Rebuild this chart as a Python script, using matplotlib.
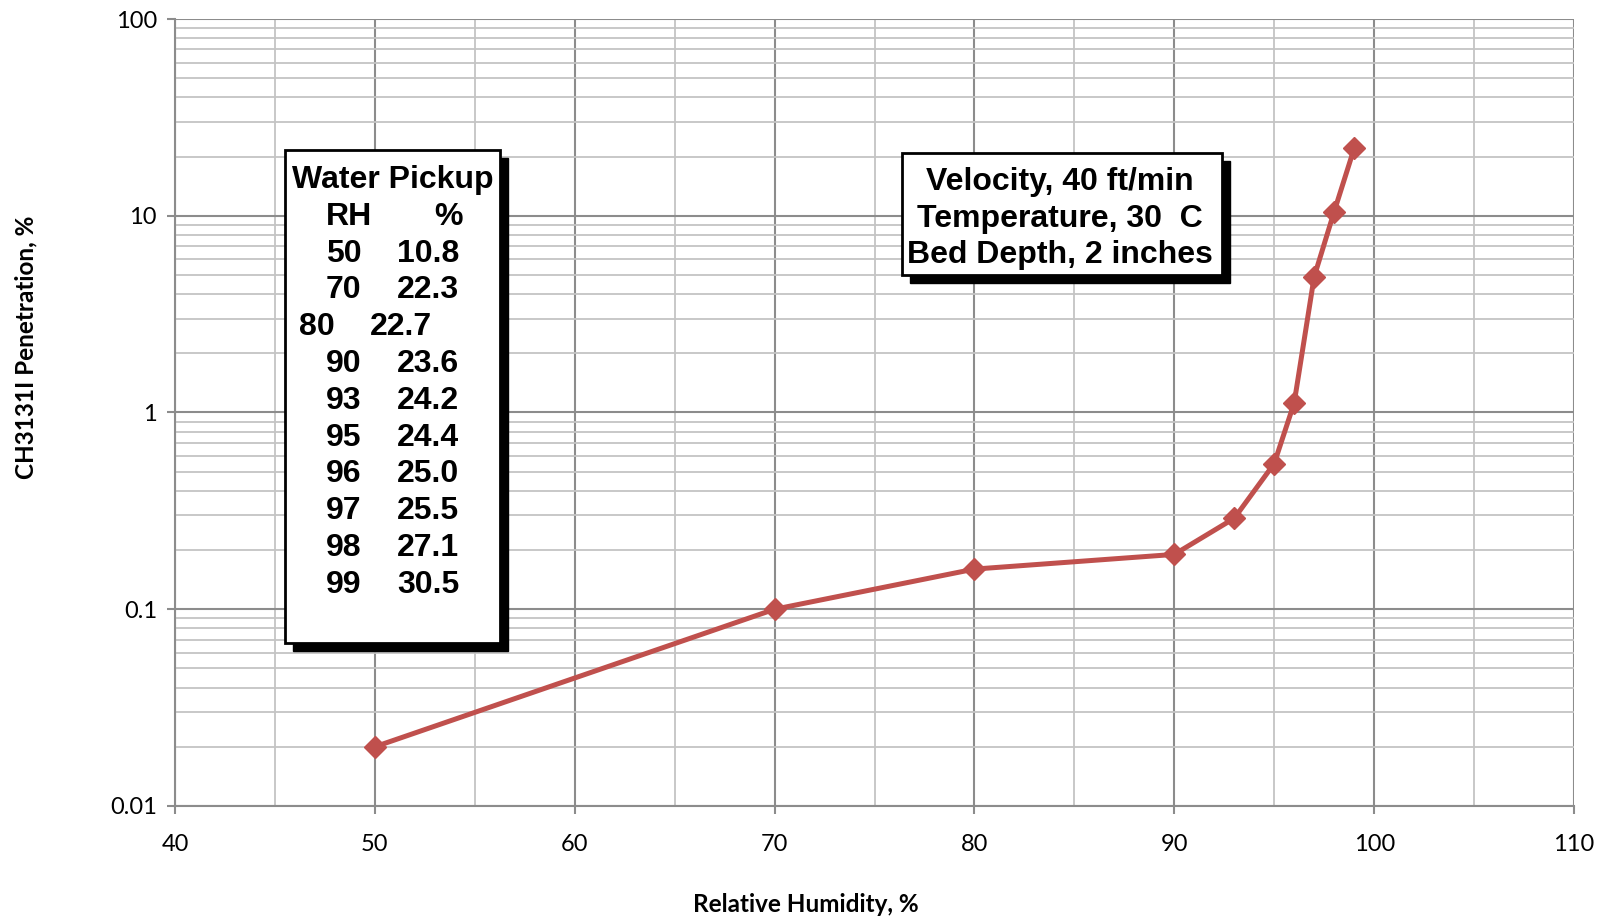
import matplotlib
matplotlib.use("Agg")
import matplotlib.pyplot as plt
from matplotlib.patches import Rectangle
from matplotlib.ticker import FixedLocator, NullFormatter, LogLocator

rh = [50, 70, 80, 90, 93, 95, 96, 97, 98, 99]
penetration = [0.02, 0.10, 0.16, 0.19, 0.29, 0.55, 1.12, 4.9, 10.5, 22.0]

table_rh = ["50", "70", "80", "90", "93", "95", "96", "97", "98", "99"]
table_pickup = ["10.8", "22.3", "22.7", "23.6", "24.2", "24.4", "25.0", "25.5", "27.1", "30.5"]

conditions = ["Velocity, 40 ft/min", "Temperature, 30  C", "Bed Depth, 2 inches"]

xticks = [40, 50, 60, 70, 80, 90, 100, 110]
yticks = [0.01, 0.1, 1, 10, 100]
ytick_labels = ["0.01", "0.1", "1", "10", "100"]

W, H = 1602, 919
fig = plt.figure(figsize=(W / 100, H / 100), dpi=100)
L, R, T, B = 175, 1574, 19, 806
ax = fig.add_axes([L / W, 1 - B / H, (R - L) / W, (B - T) / H])

ax.set_xlim(40, 110)
ax.set_yscale("log")
ax.set_ylim(0.01, 100)

major_c = "#8c8c8c"
minor_c = "#c4c4c4"
ax.set_xticks(xticks)
ax.xaxis.set_minor_locator(FixedLocator([45, 55, 65, 75, 85, 95, 105]))
ax.set_yticks(yticks)
ax.set_yticklabels(ytick_labels)
ax.yaxis.set_minor_locator(LogLocator(base=10, subs=range(2, 10), numticks=20))
ax.yaxis.set_minor_formatter(NullFormatter())

ax.grid(which="major", color=major_c, linewidth=1.5)
ax.grid(which="minor", color=minor_c, linewidth=1.3)
ax.set_axisbelow(True)
for s in ["top", "right"]:
    ax.spines[s].set_visible(False)
for s in ["left", "bottom"]:
    ax.spines[s].set_color(major_c)
    ax.spines[s].set_linewidth(1.5)
ax.tick_params(which="major", length=6, width=1.5, color=major_c,
               labelsize=17, pad=14)
ax.tick_params(axis="y", which="major", pad=7)
ax.tick_params(which="minor", length=0)
for lab in ax.get_xticklabels() + ax.get_yticklabels():
    lab.set_fontfamily("Lato")

ax.plot(rh, penetration, color="#c0504d", linewidth=3.6, marker="D",
        markersize=11, markeredgecolor="#c0504d", zorder=5, clip_on=False)

ax.set_xlabel("Relative Humidity, %", fontsize=17.5, fontweight="bold",
              family="Lato")
ax.set_ylabel("CH3131I Penetration, %", fontsize=17.5, fontweight="bold",
              family="Lato")
ax.xaxis.set_label_coords((806 - L) / (R - L), -(904 - B) / (B - T))
ax.yaxis.set_label_coords((26 - L) / (R - L), (B - 347) / (B - T))
ax.xaxis.label.set_va("center")
ax.yaxis.label.set_va("center")


def fx(px):
    return px / W


def fy(py):
    return 1 - py / H


def box(x0, y0, x1, y1, sh=8):
    fig.patches.append(Rectangle((fx(x0 + sh), fy(y1 + sh)), fx(x1 - x0), (y1 - y0) / H,
                                 transform=fig.transFigure, facecolor="black",
                                 edgecolor="black", zorder=10))
    fig.patches.append(Rectangle((fx(x0), fy(y1)), fx(x1 - x0), (y1 - y0) / H,
                                 transform=fig.transFigure, facecolor="white",
                                 edgecolor="black", linewidth=2, zorder=11))


tfont = dict(fontsize=23, fontweight="bold", family="Liberation Sans",
             va="baseline", zorder=12)

# Water pickup table
box(285, 150, 500, 643)
fig.text(fx(393), fy(188), "Water Pickup", ha="center", **tfont)
fig.text(fx(326), fy(225), "RH", ha="left", **tfont)
fig.text(fx(434), fy(225), "%", ha="left", **tfont)
row_y0, row_dy = 261.7, 36.8
for i, (a, b) in enumerate(zip(table_rh, table_pickup)):
    y = row_y0 + i * row_dy
    shift = -27 if a == "80" else 0
    fig.text(fx(326 + shift), fy(y), a, ha="left", **tfont)
    fig.text(fx(397 + shift), fy(y), b, ha="left", **tfont)

# Conditions box
box(902, 153, 1222, 275)
for i, line in enumerate(conditions):
    fig.text(fx(1060), fy(190 + i * 36.5), line, ha="center", **tfont)

fig.savefig("out.png", dpi=100)
